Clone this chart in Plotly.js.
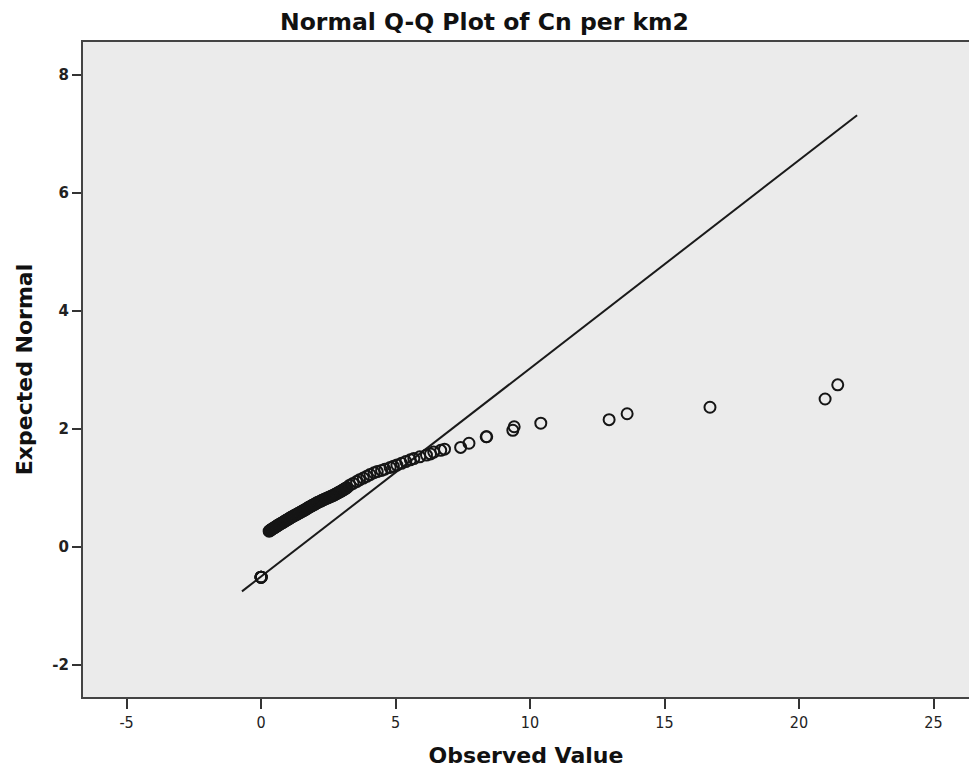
<!DOCTYPE html>
<html>
<head>
<meta charset="utf-8">
<script src="https://cdn.plot.ly/plotly-3.0.1.min.js"></script>
<style>html,body{margin:0;padding:0;background:#fff;}#chart{width:969px;height:769px;}</style>
</head>
<body>
<div id="chart"></div>
<script>
const observedValue = [
  0, 0, 0, 0, 0,
  0.30, 0.33, 0.36, 0.39, 0.42, 0.46, 0.50, 0.53, 0.56, 0.60, 0.63, 0.66, 0.70, 0.74, 0.78,
  0.82, 0.85, 0.88, 0.92, 0.96, 0.99, 1.03, 1.07, 1.10, 1.14, 1.18, 1.22, 1.26, 1.30, 1.34,
  1.38, 1.42, 1.46, 1.50, 1.54, 1.58, 1.62, 1.66, 1.69, 1.73, 1.76, 1.80, 1.84, 1.88, 1.92,
  1.96, 2.00, 2.04, 2.08, 2.12, 2.17, 2.22, 2.26, 2.30, 2.35, 2.40, 2.45, 2.50, 2.55, 2.60,
  2.65, 2.70, 2.74, 2.78, 2.82, 2.86, 2.90, 2.94, 2.98, 3.02, 3.05, 3.09, 3.12, 3.16, 3.20,
  3.30, 3.42, 3.55, 3.66, 3.80, 3.93, 4.05, 4.20, 4.32, 4.48,
  4.60, 4.80, 4.92, 5.05, 5.22, 5.38, 5.55, 5.68, 5.90, 6.15,
  6.30, 6.42, 6.68, 6.82, 7.42, 7.73, 8.37, 8.39, 9.36, 9.41,
  10.40, 12.94, 13.61, 16.69, 20.97, 21.44
];
const expectedNormal = [
  -0.51, -0.51, -0.51, -0.51, -0.51,
  0.27, 0.28, 0.29, 0.30, 0.31, 0.32, 0.33, 0.34, 0.35, 0.36, 0.37, 0.38, 0.39, 0.40, 0.41,
  0.42, 0.43, 0.44, 0.45, 0.46, 0.47, 0.48, 0.49, 0.50, 0.51, 0.52, 0.53, 0.54, 0.55, 0.56,
  0.57, 0.58, 0.59, 0.60, 0.61, 0.62, 0.63, 0.64, 0.65, 0.66, 0.67, 0.68, 0.69, 0.70, 0.71,
  0.72, 0.73, 0.74, 0.75, 0.76, 0.77, 0.78, 0.79, 0.80, 0.81, 0.82, 0.83, 0.84, 0.85, 0.86,
  0.87, 0.88, 0.89, 0.90, 0.91, 0.92, 0.93, 0.94, 0.95, 0.96, 0.97, 0.98, 0.99, 1.00, 1.01,
  1.05, 1.08, 1.11, 1.14, 1.17, 1.20, 1.23, 1.26, 1.28, 1.30,
  1.32, 1.35, 1.37, 1.39, 1.42, 1.45, 1.48, 1.50, 1.53, 1.56,
  1.58, 1.61, 1.64, 1.66, 1.69, 1.76, 1.87, 1.87, 1.98, 2.04,
  2.10, 2.16, 2.26, 2.37, 2.51, 2.75
];
// Reference line endpoints
const lineX = [-0.71, 22.16];
const lineY = [-0.75, 7.32];
// Tick values
const xTicks = [-5, 0, 5, 10, 15, 20, 25];
const yTicks = [-2, 0, 2, 4, 6, 8];

const tickFontX = {family: 'DejaVu Sans Condensed, Liberation Sans Narrow, sans-serif', size: 16, color: '#222'};
const tickFontY = {family: 'DejaVu Sans, sans-serif', size: 15, color: '#222', weight: 'bold'};
const titleFamily = 'DejaVu Sans, sans-serif';

const data = [
  {
    x: lineX, y: lineY, type: 'scatter', mode: 'lines',
    line: {color: '#1a1a1a', width: 2}, hoverinfo: 'skip', showlegend: false
  },
  {
    x: observedValue, y: expectedNormal, type: 'scatter', mode: 'markers',
    marker: {symbol: 'circle-open', size: 11, color: '#151515', line: {width: 2, color: '#151515'}},
    showlegend: false
  }
];

const layout = {
  width: 969, height: 769,
  margin: {l: 83, r: 0, t: 42, b: 72, pad: 0},
  paper_bgcolor: '#ffffff',
  plot_bgcolor: '#ebebeb',
  title: {
    text: '<b>Normal Q-Q Plot of Cn per km2</b>',
    x: 0.5, xref: 'container', xanchor: 'center', y: 1 - 22 / 769, yref: 'container', yanchor: 'middle',
    font: {family: titleFamily, size: 23.5, color: '#111'}
  },
  xaxis: {
    range: [-6.62, 26.32],
    tickmode: 'array', tickvals: xTicks, ticktext: xTicks.map(String),
    ticks: 'outside', ticklen: 10, tickwidth: 2, tickcolor: '#333',
    showgrid: false, zeroline: false,
    showline: true, mirror: true, linecolor: '#444', linewidth: 2,
    tickfont: tickFontX,
    title: {text: '<b>Observed Value</b>', standoff: 16,
      font: {family: titleFamily, size: 22, color: '#111'}}
  },
  yaxis: {
    range: [-2.54, 8.56],
    tickmode: 'array', tickvals: yTicks, ticktext: yTicks.map(v => v < 0 ? '-' + Math.abs(v) : String(v)),
    ticks: 'outside', ticklen: 9, tickwidth: 2, tickcolor: '#333',
    showgrid: false, zeroline: false,
    showline: true, mirror: true, linecolor: '#444', linewidth: 2,
    tickfont: tickFontY,
    title: {text: '<b>Expected Normal</b>', standoff: 14,
      font: {family: titleFamily, size: 22, color: '#111'}}
  }
};

Plotly.newPlot('chart', data, layout, {displayModeBar: false, staticPlot: true});
</script>
</body>
</html>
